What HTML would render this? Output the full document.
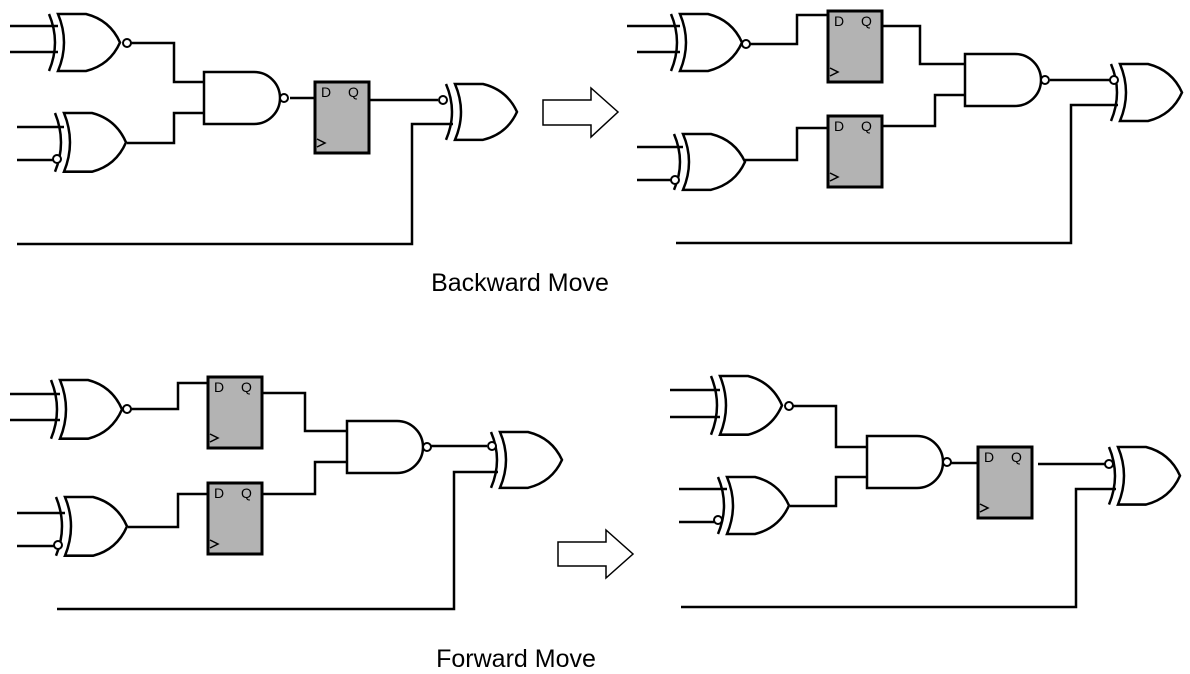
<!DOCTYPE html>
<html><head><meta charset="utf-8"><style>
body{margin:0;background:#fff}
svg{display:block}
text{font-family:"Liberation Sans",sans-serif}
</style></head><body>
<svg width="1190" height="674" viewBox="0 0 1190 674" xmlns="http://www.w3.org/2000/svg">
<defs>
<g id="xor">
<path d="M0,0 H28 Q52,6 62,28.5 Q52,51 28,57 H0 Q12,28.5 0,0Z" fill="#fff" stroke="#000" stroke-width="2.5"/>
<path d="M-9,0 Q3,28.5 -9,57" fill="none" stroke="#000" stroke-width="2.5"/>
</g>
<g id="nand">
<path d="M0,0 H50 A26,26 0 0 1 50,52 H0Z" fill="#fff" stroke="#000" stroke-width="2.5"/>
<circle cx="80" cy="26" r="4" fill="#fff" stroke="#000" stroke-width="2"/>
</g>
<g id="ff">
<rect x="0" y="0" width="54" height="71" fill="#b3b3b3" stroke="#000" stroke-width="3"/>
<text x="6" y="15" font-size="14">D</text>
<text x="33" y="15" font-size="14">Q</text>
<path d="M2,57 L10,61 L2,65" fill="none" stroke="#000" stroke-width="1.5"/>
</g>
</defs>
<g fill="none" stroke="#000" stroke-width="2.5">
<path d="M10,26H58M10,52H58"/>
<path d="M17,127H64M17,160H55"/>
<path d="M131,43H174V82H204M127,143H174V113H204"/>
<path d="M290,98H315"/>
<path d="M369,100H438"/>
<path d="M17,244H412V124H453"/>
<path d="M627,26H680M637,52H680"/>
<path d="M637,147H683M637,180H671"/>
<path d="M750,44H797V15H828"/>
<path d="M745,160H797V128H828"/>
<path d="M880,26H920V64H965"/>
<path d="M882,126H935V95H965"/>
<path d="M1050,80H1110"/>
<path d="M676,243H1071V105H1118"/>
<path d="M10,394H60M10,420H60"/>
<path d="M17,513H65M17,546H54"/>
<path d="M131,409H178V383H208"/>
<path d="M128,527H178V494H208"/>
<path d="M262,393H305V431H347"/>
<path d="M262,494H315V462H347"/>
<path d="M431,446H487"/>
<path d="M57,609H454V472H498"/>
<path d="M670,390H720M670,417H720"/>
<path d="M679,489H727M679,522H714"/>
<path d="M793,406H836V447H867"/>
<path d="M790,506H836V477H867"/>
<path d="M949,463H978"/>
<path d="M1038,464H1105"/>
<path d="M681,607H1076V489H1116"/>
</g>
<use href="#xor" transform="translate(58,14)"/>
<circle cx="127" cy="43" r="4" fill="#fff" stroke="#000" stroke-width="2"/>
<use href="#xor" transform="translate(64,113) scale(1,1.03)"/>
<circle cx="57" cy="159" r="4" fill="#fff" stroke="#000" stroke-width="2"/>
<use href="#nand" transform="translate(204,72)"/>
<use href="#ff" transform="translate(315,82)"/>
<use href="#xor" transform="translate(455,84) scale(1,0.98)"/>
<circle cx="443" cy="100" r="4" fill="#fff" stroke="#000" stroke-width="2"/>
<use href="#xor" transform="translate(680,14)"/>
<circle cx="746" cy="44" r="4" fill="#fff" stroke="#000" stroke-width="2"/>
<use href="#xor" transform="translate(683,134) scale(1,0.98)"/>
<circle cx="675" cy="180" r="4" fill="#fff" stroke="#000" stroke-width="2"/>
<use href="#ff" transform="translate(828,11)"/>
<use href="#ff" transform="translate(828,116)"/>
<use href="#nand" transform="translate(965,54)"/>
<use href="#xor" transform="translate(1120,64)"/>
<circle cx="1114" cy="80" r="4" fill="#fff" stroke="#000" stroke-width="2"/>
<use href="#xor" transform="translate(60,380) scale(1,1.03)"/>
<circle cx="127" cy="409" r="4" fill="#fff" stroke="#000" stroke-width="2"/>
<use href="#xor" transform="translate(65,497) scale(1,1.03)"/>
<circle cx="58" cy="545" r="4" fill="#fff" stroke="#000" stroke-width="2"/>
<use href="#ff" transform="translate(208,377)"/>
<use href="#ff" transform="translate(208,483)"/>
<use href="#nand" transform="translate(347,421)"/>
<use href="#xor" transform="translate(500,432) scale(1,0.98)"/>
<circle cx="492" cy="446" r="4" fill="#fff" stroke="#000" stroke-width="2"/>
<use href="#xor" transform="translate(720,376) scale(1,1.03)"/>
<circle cx="789" cy="406" r="4" fill="#fff" stroke="#000" stroke-width="2"/>
<use href="#xor" transform="translate(727,477)"/>
<circle cx="718" cy="520" r="4" fill="#fff" stroke="#000" stroke-width="2"/>
<use href="#nand" transform="translate(867,436)"/>
<use href="#ff" transform="translate(978,447)"/>
<use href="#xor" transform="translate(1118,447) scale(1,1.01)"/>
<circle cx="1109" cy="464" r="4" fill="#fff" stroke="#000" stroke-width="2"/>
<path d="M543,100H591V88L618,112L591,137V125H543Z" fill="#fff" stroke="#000" stroke-width="1.5"/>
<path d="M558,542H606V530L633,554L606,578V566H558Z" fill="#fff" stroke="#000" stroke-width="1.5"/>
<text x="520" y="291" font-size="25" text-anchor="middle">Backward Move</text>
<text x="516" y="667" font-size="25" text-anchor="middle">Forward Move</text>
</svg>
</body></html>
